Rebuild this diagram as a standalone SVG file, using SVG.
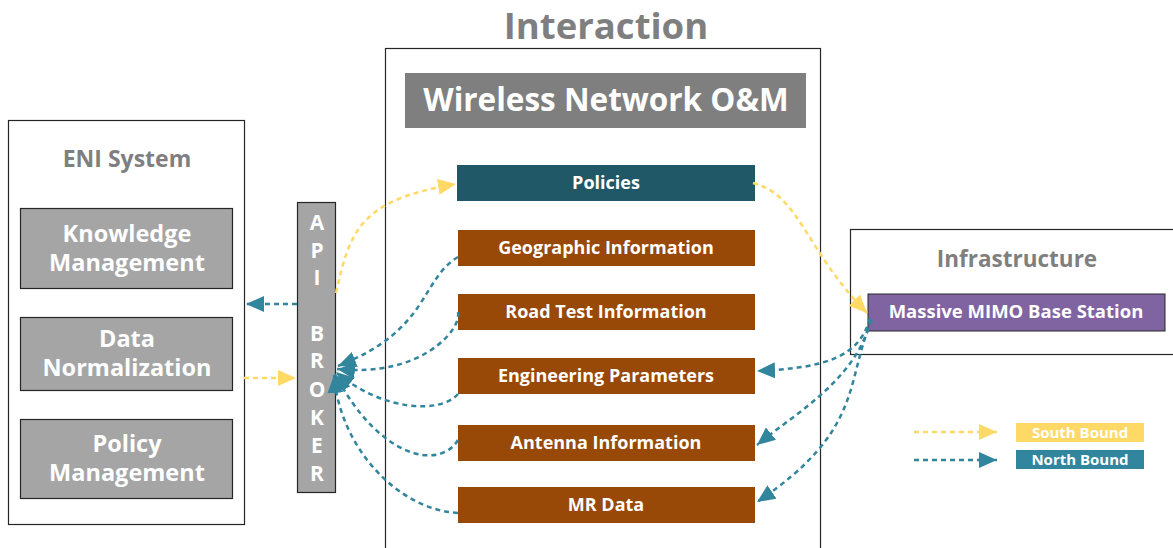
<svg xmlns="http://www.w3.org/2000/svg" width="1173" height="548" viewBox="0 0 1173 548">
<defs>
<style>
text{font-family:"Open Sans","Noto Sans","DejaVu Sans",sans-serif;font-weight:bold;text-anchor:middle}
.frame{fill:#fff;stroke:#262626;stroke-width:1.2}
.title{fill:#7f7f7f}
.eni{fill:#a5a5a5;stroke:#262626;stroke-width:1.2}
.eni-t{fill:#fff;font-size:23.5px}
.orange{fill:#984807}
.w{fill:#fff}
.lbl{fill:#fff;font-size:18px}
.south{fill:none;stroke:#ffd966;stroke-width:2.5;stroke-dasharray:5 4}
.north{fill:none;stroke:#31859c;stroke-width:2.5;stroke-dasharray:5 4}
</style>
<marker id="ay" markerUnits="userSpaceOnUse" markerWidth="20" markerHeight="16" viewBox="0 0 20 16" refX="18" refY="8" orient="auto"><path d="M0,0 L18,8 L0,16 z" fill="#ffd966"/></marker>
<marker id="an" markerUnits="userSpaceOnUse" markerWidth="20" markerHeight="16" viewBox="0 0 20 16" refX="18" refY="8" orient="auto"><path d="M0,0 L18,8 L0,16 z" fill="#31859c"/></marker>
</defs>
<rect width="1173" height="548" fill="#fff"/>

<g id="interaction">
<rect class="frame" x="385.5" y="48.5" width="435" height="510"/>
<text class="title" x="606" y="39" font-size="36.5">Interaction</text>
</g>
<g id="wireless-om">
<rect x="405" y="73" width="401" height="55" fill="#7f7f7f"/>
<text class="w" x="606" y="111" font-size="31.5">Wireless Network O&amp;M</text>
</g>
<g id="policies">
<rect x="457" y="165" width="298" height="36" fill="#215868"/>
<text class="lbl" x="606" y="189">Policies</text>
</g>
<g id="geographic">
<rect class="orange" x="458" y="230" width="297" height="36"/>
<text class="lbl" x="606" y="254">Geographic Information</text>
</g>
<g id="road-test">
<rect class="orange" x="458" y="294" width="297" height="36"/>
<text class="lbl" x="606" y="318">Road Test Information</text>
</g>
<g id="engineering">
<rect class="orange" x="458" y="358" width="297" height="36"/>
<text class="lbl" x="606" y="382">Engineering Parameters</text>
</g>
<g id="antenna">
<rect class="orange" x="458" y="425" width="297" height="36"/>
<text class="lbl" x="606" y="449">Antenna Information</text>
</g>
<g id="mr-data">
<rect class="orange" x="458" y="487" width="297" height="36"/>
<text class="lbl" x="606" y="511">MR Data</text>
</g>

<g id="eni-system">
<rect class="frame" x="8.5" y="120.5" width="236" height="404"/>
<text class="title" x="127" y="167" font-size="23">ENI System</text>
</g>
<g id="knowledge-management">
<rect class="eni" x="20.5" y="208.5" width="212" height="80"/>
<text class="eni-t" x="127" y="242">Knowledge</text>
<text class="eni-t" x="127" y="271">Management</text>
</g>
<g id="data-normalization">
<rect class="eni" x="20.5" y="317.5" width="212" height="73"/>
<text class="eni-t" x="127" y="347">Data</text>
<text class="eni-t" x="127" y="376">Normalization</text>
</g>
<g id="policy-management">
<rect class="eni" x="20.5" y="419.5" width="212" height="79"/>
<text class="eni-t" x="127" y="452">Policy</text>
<text class="eni-t" x="127" y="481">Management</text>
</g>

<g id="api-broker">
<rect class="eni" x="297.5" y="202.5" width="38" height="290"/>
<g class="w" font-size="21">
<text x="317" y="230">A</text>
<text x="317" y="258">P</text>
<text x="317" y="285">I</text>
<text x="317" y="341">B</text>
<text x="317" y="368">R</text>
<text x="317" y="397">O</text>
<text x="317" y="425">K</text>
<text x="317" y="453">E</text>
<text x="317" y="481">R</text>
</g>
</g>

<g id="infrastructure">
<rect class="frame" x="850.5" y="229.5" width="330" height="125"/>
<text class="title" x="1017" y="267" font-size="22.5">Infrastructure</text>
</g>
<g id="massive-mimo">
<rect x="868" y="294" width="297" height="37" fill="#8064a2" stroke="#262626" stroke-width="1"/>
<text class="w" x="1016" y="318" font-size="18.5">Massive MIMO Base Station</text>
</g>

<g id="legend">
<path class="south" d="M914,432 H997" marker-end="url(#ay)"/>
<path class="north" d="M914,460 H997" marker-end="url(#an)"/>
<rect x="1016" y="423" width="128" height="19" fill="#ffd966"/>
<text class="w" x="1080" y="438" font-size="15">South Bound</text>
<rect x="1016" y="450" width="128" height="19" fill="#31859c"/>
<text class="w" x="1080" y="465" font-size="15">North Bound</text>
</g>

<g id="connectors">
<path class="north" d="M297,304 H246" marker-end="url(#an)"/>
<path class="south" d="M244,378 H296" marker-end="url(#ay)"/>
<path class="south" d="M336,293 C350,230 360,200 456,184" marker-end="url(#ay)"/>
<path class="north" d="M458,257 C420,280 430,330 338,366" marker-end="url(#an)"/>
<path class="north" d="M458,312 C462,330 420,378 337,369" marker-end="url(#an)"/>
<path class="north" d="M458,394 C440,415 380,410 336,372" marker-end="url(#an)"/>
<path class="north" d="M458,440 C440,470 380,460 335,374" marker-end="url(#an)"/>
<path class="north" d="M458,513 C400,510 340,450 334,375" marker-end="url(#an)"/>
<path class="south" d="M753,183 C800,195 805,250 867,313" marker-end="url(#ay)"/>
<path class="north" d="M870,318 C860,355 830,368 757,371" marker-end="url(#an)"/>
<path class="north" d="M871,320 C855,380 800,410 757,445" marker-end="url(#an)"/>
<path class="north" d="M872,320 C845,380 865,430 757,502" marker-end="url(#an)"/>
</g>
</svg>
